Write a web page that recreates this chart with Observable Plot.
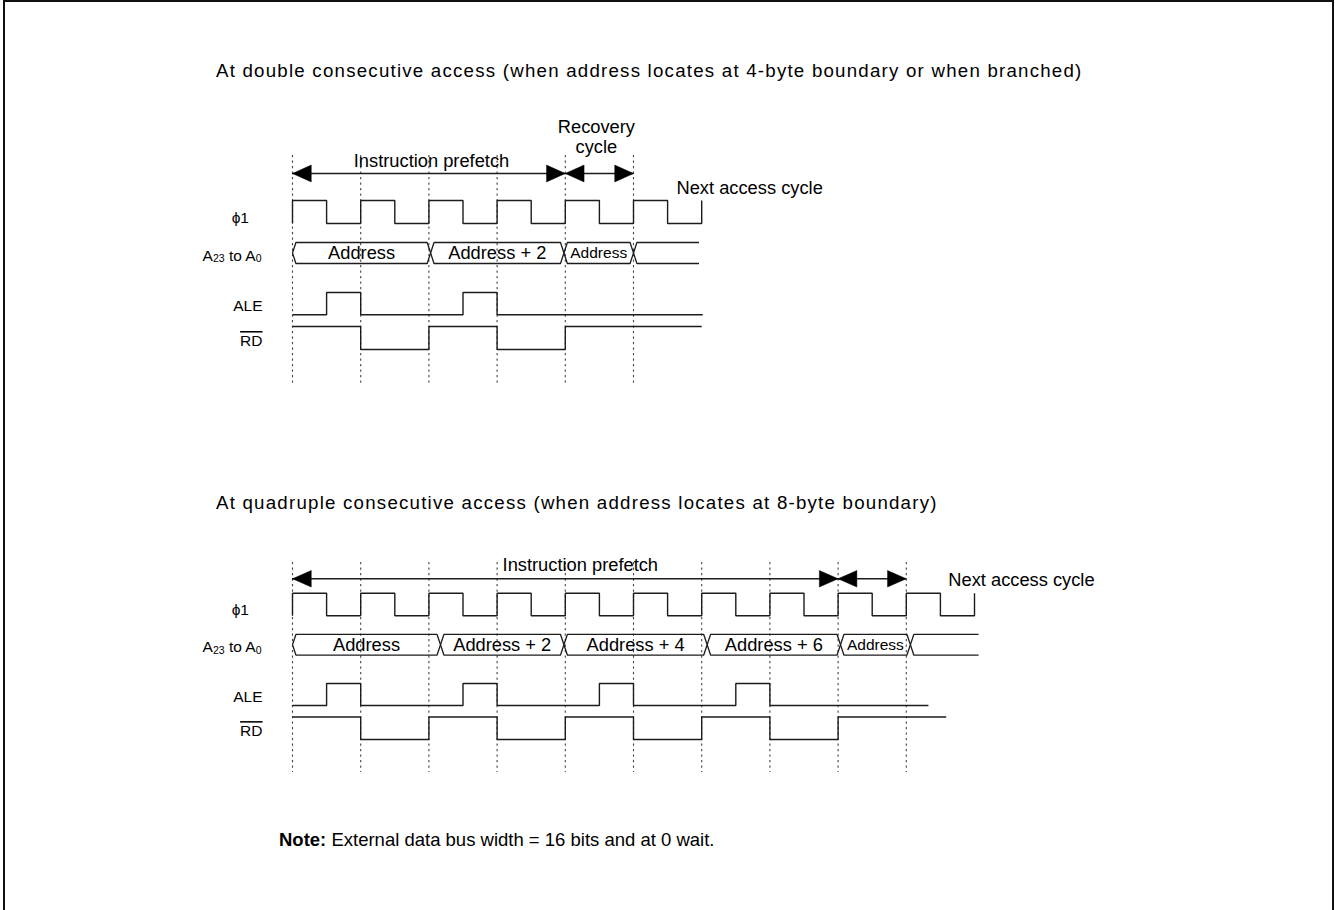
<!DOCTYPE html>
<html><head><meta charset="utf-8">
<script src="https://cdn.jsdelivr.net/npm/d3@7"></script>
<script src="https://cdn.jsdelivr.net/npm/@observablehq/plot@0.6"></script>
<style>
body{margin:0;background:#fff;width:1335px;height:910px;overflow:hidden;position:relative;font-family:"Liberation Sans",Arial,sans-serif;color:#000}
#frame{position:absolute;left:3px;top:0px;width:1331px;height:1000px;box-sizing:border-box;border:2px solid #111}
.title{position:absolute;left:216px;font-size:18.7px;line-height:18.7px;letter-spacing:1.22px;white-space:nowrap}
.note{position:absolute;left:279px;font-size:18.5px;line-height:18.5px;white-space:nowrap}
.plot{position:absolute;left:0}
</style></head><body>
<div id="frame"></div>
<div class="title" style="top:61.9px">At double consecutive access (when address locates at 4-byte boundary or when branched)</div>
<div class="plot" id="p1" style="top:100px"></div>
<div class="title" style="top:493.5px">At quadruple consecutive access (when address locates at 8-byte boundary)</div>
<div class="plot" id="p2" style="top:540px"></div>
<div class="note" style="top:831.3px"><b>Note:</b> External data bus width = 16 bits and at 0 wait.</div>
<script>
// ---------- data (time in half-cycles of ϕ1) ----------
const signalLabels = ["ϕ1", "A23 to A0", "ALE", "RD"];
const prefetchLabel = "Instruction prefetch";
const recoveryLabel = "Recovery\ncycle";
const nextLabel = "Next access cycle";

// double consecutive access
const dblBoundaries = [0, 2, 4, 6, 8, 10];
const dblPhiStart = 0;
const dblPhi = [1,0,1,0,1,0,1,0,1,0,1,0,1];        // level at t = 0..12
const dblAle = [0,1,0,0,0,1,0,0,0,0,0,0];
const dblAleEnd = 12.03;
const dblRd = [1,1,0,0,1,1,0,0,1,1,1,1];
const dblRdEnd = 12;
const dblAddrTimes = [0, 4.05, 7.96, 10.0];
const dblAddrLabels = ["Address", "Address + 2", "Address", ""];
const dblAddrEnd = 11.92;
const dblPrefetch = [0, 8];
const dblRecovery = [8, 10];

// quadruple consecutive access
const quadBoundaries = [0, 2, 4, 6, 8, 10, 12, 14, 16, 18];
const quadPhiStart = 0;
const quadPhi = [1,0,1,0,1,0,1,0,1,0,1,0,1,0,1,0,1,0,1,0,1]; // t = 0..20
const quadAle = [0,1,0,0,0,1,0,0,0,1,0,0,0,1,0,0,0,0,0];
const quadAleEnd = 18.65;
const quadRd = [1,1,0,0,1,1,0,0,1,1,0,0,1,1,0,0,1,1,1];
const quadRdEnd = 19.17;
const quadAddrTimes = [0, 4.34, 7.96, 12.16, 16.07, 18.12];
const quadAddrLabels = ["Address", "Address + 2", "Address + 4", "Address + 6", "Address", ""];
const quadAddrEnd = 20.12;
const quadPrefetch = [0, 16];
const quadRecovery = [16, 18];

// ---------- drawing ----------
const FONT = '"Liberation Sans", Arial, sans-serif';
const lanes = {phi: [0, 23], addr: [42, 63], ale: [92, 114.3], rd: [126, 149]};
const lv = (lane, v) => lanes[lane][1] - v * (lanes[lane][1] - lanes[lane][0]);

function diagram(cfg, lay) {
  const hw = 0.1;      // half width of a bus transition, in half-cycles
  const headL = 0.55;  // arrow head length
  const headH = 8.4;   // arrow head half height
  const phiPts = [{t: 0, y: lv("phi", cfg.phiStart)}, ...cfg.phi.map((v, i) => ({t: i, y: lv("phi", v)}))];
  const stepPts = (lane, arr, end) => [...arr.map((v, i) => ({t: i, y: lv(lane, v)})), {t: end, y: lv(lane, arr[arr.length - 1])}];
  const alePts = stepPts("ale", cfg.ale, cfg.aleEnd);
  const rdPts = stepPts("rd", cfg.rd, cfg.rdEnd);

  const [aT, aB] = lanes.addr, aM = (aT + aB) / 2;
  const busPts = [], busText = [];
  cfg.addrTimes.forEach((a, i) => {
    const last = i === cfg.addrTimes.length - 1;
    const b = last ? cfg.addrEnd : cfg.addrTimes[i + 1];
    if (last) {
      busPts.push({z: i + "t", t: a, y: aM}, {z: i + "t", t: a + hw, y: aT}, {z: i + "t", t: b, y: aT});
      busPts.push({z: i + "b", t: a, y: aM}, {z: i + "b", t: a + hw, y: aB}, {z: i + "b", t: b, y: aB});
    } else {
      [[a, aM], [a + hw, aT], [b - hw, aT], [b, aM], [b - hw, aB], [a + hw, aB], [a, aM]]
        .forEach(([t, y]) => busPts.push({z: String(i), t, y}));
    }
    if (cfg.addrLabels[i]) busText.push({t: (a + b) / 2, y: aM, text: cfg.addrLabels[i], small: b - a < 3});
  });

  const spans = [cfg.prefetch, cfg.recovery];
  const heads = [];
  spans.forEach((s, j) => {
    const [a, b] = s;
    [[a, a + headL], [b, b - headL]].forEach(([tip, base], k) => {
      const z = j + "-" + k;
      heads.push({z, t: tip, y: lay.arrowY}, {z, t: base, y: lay.arrowY - headH}, {z, t: base, y: lay.arrowY + headH}, {z, t: tip, y: lay.arrowY});
    });
  });

  const labelRows = [
    {text: signalLabels[0], y: lanes.phi[1] - 1, dx: 248.5},
    {text: signalLabels[1], y: lanes.addr[1] - 3, dx: 261},
    {text: signalLabels[2], y: lanes.ale[1] - 4, dx: 262},
    {text: signalLabels[3], y: lanes.rd[1] - 3.5, dx: 262}
  ];

  const ink = "#1c1c1c";
  const marks = [
    Plot.ruleX(cfg.boundaries, {x: d => d, y1: () => lay.dashTop, y2: () => lay.dashBot, stroke: "#444", strokeWidth: 1.1, strokeDasharray: "2.2,3.3"}),
    Plot.line(phiPts, {x: "t", y: "y", curve: "step-after", stroke: ink, strokeWidth: 1.4, strokeLinecap: "butt", strokeLinejoin: "miter"}),
    Plot.line(alePts, {x: "t", y: "y", curve: "step-after", stroke: ink, strokeWidth: 1.4, strokeLinecap: "butt", strokeLinejoin: "miter"}),
    Plot.line(rdPts, {x: "t", y: "y", curve: "step-after", stroke: ink, strokeWidth: 1.4, strokeLinecap: "butt", strokeLinejoin: "miter"}),
    Plot.line(busPts, {x: "t", y: "y", z: "z", stroke: ink, strokeWidth: 1.3, strokeLinecap: "butt"}),
    Plot.text(busText.filter(d => !d.small), {x: "t", y: "y", text: "text", fontSize: 18.3, fill: "#000"}),
    Plot.text(busText.filter(d => d.small), {x: "t", y: "y", text: "text", fontSize: 15.5, fill: "#000"}),
    Plot.ruleY(spans, {x1: d => d[0], x2: d => d[1], y: () => lay.arrowY, stroke: ink, strokeWidth: 1.3}),
    Plot.line(heads, {x: "t", y: "y", z: "z", fill: "#000", stroke: "#000", strokeWidth: 0.5}),
    Plot.text([prefetchLabel], {x: () => (cfg.prefetch[0] + cfg.prefetch[1]) / 2, y: () => lay.prefetchY, text: d => d, dx: lay.prefetchDx, lineAnchor: "bottom", fontSize: 18.3, fill: "#000"}),
    Plot.text([nextLabel], {x: () => cfg.recovery[1], y: () => lay.nextY, text: d => d, dx: lay.nextDx, textAnchor: "start", lineAnchor: "bottom", fontSize: 18.3, fill: "#000"})
  ];
  if (lay.showRecovery) marks.push(Plot.text([recoveryLabel], {x: () => (cfg.recovery[0] + cfg.recovery[1]) / 2, y: () => lay.recoveryY, text: d => d, dx: -3, lineAnchor: "bottom", lineHeight: 1.093, fontSize: 18.3, fill: "#000"}));
  labelRows.forEach(r => marks.push(Plot.text([r], {frameAnchor: "left", dx: r.dx, y: "y", text: "text", textAnchor: "end", lineAnchor: "bottom", fontSize: 15.5, fill: "#000"})));

  const svg = Plot.plot({
    width: 1335, height: lay.height, margin: 0,
    x: {domain: [0, 20], range: [292, 292 + 20 * 34.1], axis: null},
    y: {domain: lay.yDomain, range: [0, lay.height], axis: null},
    style: {background: "transparent", overflow: "visible", fontFamily: FONT, color: "#000"},
    marks
  });
  d3.select(svg).selectAll("text").each(function () {
    const t = this.textContent;
    if (t === "A23 to A0") {
      const s = d3.select(this); s.text("");
      s.append("tspan").text("A");
      s.append("tspan").attr("font-size", 10.5).attr("dy", 1.5).text("23");
      s.append("tspan").attr("dy", -1.5).text(" to A");
      s.append("tspan").attr("font-size", 10.5).attr("dy", 1.5).text("0");
    } else if (t === "RD") {
      d3.select(this).style("text-decoration", "overline");
    }
  });
  return svg;
}

document.getElementById("p1").append(diagram(
  {boundaries: dblBoundaries, phiStart: dblPhiStart, phi: dblPhi, ale: dblAle, aleEnd: dblAleEnd, rd: dblRd, rdEnd: dblRdEnd,
   addrTimes: dblAddrTimes, addrLabels: dblAddrLabels, addrEnd: dblAddrEnd, prefetch: dblPrefetch, recovery: dblRecovery},
  {height: 300, yDomain: [-100, 200], dashTop: -45, dashBot: 186, arrowY: -27, prefetchY: -33.3, prefetchDx: 2.6,
   recoveryY: -47.3, nextY: -7, nextDx: 43, showRecovery: true}
));
const k = 0.982;
document.getElementById("p2").append(diagram(
  {boundaries: quadBoundaries, phiStart: quadPhiStart, phi: quadPhi, ale: quadAle, aleEnd: quadAleEnd, rd: quadRd, rdEnd: quadRdEnd,
   addrTimes: quadAddrTimes, addrLabels: quadAddrLabels, addrEnd: quadAddrEnd, prefetch: quadPrefetch, recovery: quadRecovery},
  {height: 250, yDomain: [-52.7 / k, (250 - 52.7) / k], dashTop: -31.3, dashBot: 182.6, arrowY: -14.7, prefetchY: -22.4, prefetchDx: 15,
   recoveryY: 0, nextY: -7.8, nextDx: 42, showRecovery: false}
));
</script>
</body></html>
